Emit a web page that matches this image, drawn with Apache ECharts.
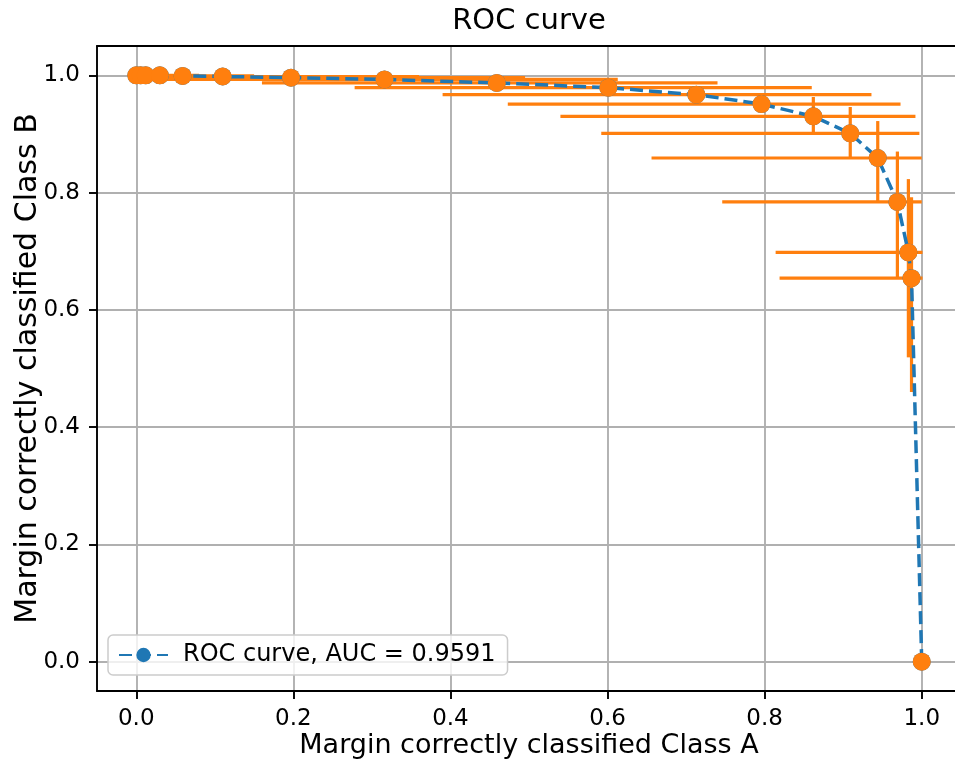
<!DOCTYPE html>
<html>
<head>
<meta charset="utf-8">
<script src="https://cdn.jsdelivr.net/npm/echarts@6/dist/echarts.min.js"></script>
<style>
  html, body { margin: 0; padding: 0; background: #fff; }
  #roc_chart { width: 955px; height: 762px; }
</style>
</head>
<body>
<div id="roc_chart"></div>
<script>
// ROC points (x = Class A, y = Class B)
const rocX = [0, 0.0055, 0.012, 0.030, 0.059, 0.110, 0.197, 0.316, 0.459, 0.601, 0.713, 0.796, 0.862, 0.909, 0.944, 0.969, 0.983, 0.987, 1.0]
const rocY = [1.0, 1.0, 1.0, 1.0, 0.999, 0.998, 0.996, 0.993, 0.987, 0.979, 0.967, 0.951, 0.930, 0.901, 0.859, 0.784, 0.698, 0.654, 0.0]
// error bar ends
const xLow = [0, 0, 0, 0, 0, 0, 0, 0.02, 0.160, 0.278, 0.390, 0.473, 0.540, 0.592, 0.656, 0.746, 0.814, 0.819, 1.0]
const xHigh = [0, 0.015, 0.03, 0.08, 0.15, 0.36, 0.495, 0.613, 0.740, 0.860, 0.936, 0.973, 0.992, 0.997, 1.0, 1.0, 1.001, 1.001, 1.0]
const yLow = [1, 1, 1, 0.998, 0.997, 0.995, 0.993, 0.989, 0.983, 0.975, 0.959, 0.939, 0.903, 0.860, 0.785, 0.656, 0.519, 0.460, 0]
const yHigh = [1, 1, 1, 1, 1, 1, 0.999, 0.997, 0.991, 0.983, 0.971, 0.962, 0.963, 0.946, 0.922, 0.870, 0.823, 0.792, 0]
const tickValues = [0, 0.2, 0.4, 0.6, 0.8, 1.0]
const legendName = 'ROC curve, AUC = 0.9591'

const blue = '#1f77b4'
const orange = '#ff7f0e'
const font = 'DejaVu Sans'

let linePts = rocX.map((x, i) => [x, rocY[i]])
let errData = rocX.map((x, i) => [x, rocY[i], xLow[i], xHigh[i], yLow[i], yHigh[i]])

function axisCommon(name, nameGap, nameSize) {
  return {
    type: 'value',
    min: -0.05,
    max: 1.05,
    name: name,
    nameLocation: 'middle',
    nameGap: nameGap,
    nameMoveOverlap: false,
    nameTextStyle: { fontFamily: font, fontSize: nameSize, color: '#000' },
    axisLine: { show: true, onZero: false, lineStyle: { color: '#000', width: 1.9 } },
    axisTick: {
      show: true,
      length: 8,
      customValues: tickValues,
      lineStyle: { color: '#000', width: 1.9 },
    },
    axisLabel: {
      customValues: tickValues,
      margin: 17,
      fontFamily: font,
      fontSize: 23,
      color: '#000',
      formatter: v => v.toFixed(1),
    },
    splitLine: { show: true, lineStyle: { color: '#b0b0b0', width: 1.9 } },
  }
}

let option = {
  animation: false,
  backgroundColor: '#fff',
  grid: {
    left: 97, top: 46, right: -6, bottom: 71,
    outerBoundsMode: 'none',
  },
  graphic: [{
    type: 'text', x: 529, y: 7,
    style: { text: 'ROC curve', fontFamily: font, fontSize: 29, fill: '#000', textAlign: 'center' },
  }],
  legend: {
    data: [legendName],
    left: 108, top: 635,
    orient: 'horizontal',
    itemWidth: 49, itemHeight: 18, itemGap: 10,
    padding: [8, 12, 8, 10],
    backgroundColor: 'rgba(255,255,255,0.8)',
    borderColor: '#cccccc', borderWidth: 1.5, borderRadius: 5,
    textStyle: { fontFamily: font, fontSize: 24, color: '#000', padding: [0, 0, 0, 10] },
  },
  xAxis: [
    axisCommon('Margin correctly classified Class A', 41, 27),
    {
      // top frame line only
      type: 'value', position: 'top', min: -0.05, max: 1.05,
      axisLine: { show: true, onZero: false, lineStyle: { color: '#000', width: 1.9 } },
      axisTick: { show: false }, axisLabel: { show: false }, splitLine: { show: false },
    },
  ],
  yAxis: axisCommon('Margin correctly classified Class B', 54, 30),
  series: [
    {
      // error bars
      type: 'custom',
      z: 1,
      silent: true,
      data: errData,
      encode: { x: [0, 2, 3], y: [1, 4, 5] },
      renderItem: function (params, api) {
        let p1 = api.coord([api.value(2), api.value(1)])
        let p2 = api.coord([api.value(3), api.value(1)])
        let p3 = api.coord([api.value(0), api.value(4)])
        let p4 = api.coord([api.value(0), api.value(5)])
        let st = { stroke: orange, lineWidth: 3.2 }
        return {
          type: 'group',
          children: [
            { type: 'line', shape: { x1: p1[0], y1: p1[1], x2: p2[0], y2: p2[1] }, style: st },
            { type: 'line', shape: { x1: p3[0], y1: p3[1], x2: p4[0], y2: p4[1] }, style: st },
          ],
        }
      },
    },
    {
      name: legendName,
      type: 'line',
      z: 2,
      data: linePts,
      symbol: 'circle',
      symbolSize: 18,
      itemStyle: { color: blue },
      lineStyle: { color: blue, width: 3.5, type: [13, 6] },
    },
    {
      type: 'scatter',
      z: 3,
      data: linePts,
      symbol: 'circle',
      symbolSize: 18,
      itemStyle: { color: orange, opacity: 1 },
    },
  ],
}

let myChart = echarts.init(document.getElementById('roc_chart'))
myChart.setOption(option)
</script>
</body>
</html>
